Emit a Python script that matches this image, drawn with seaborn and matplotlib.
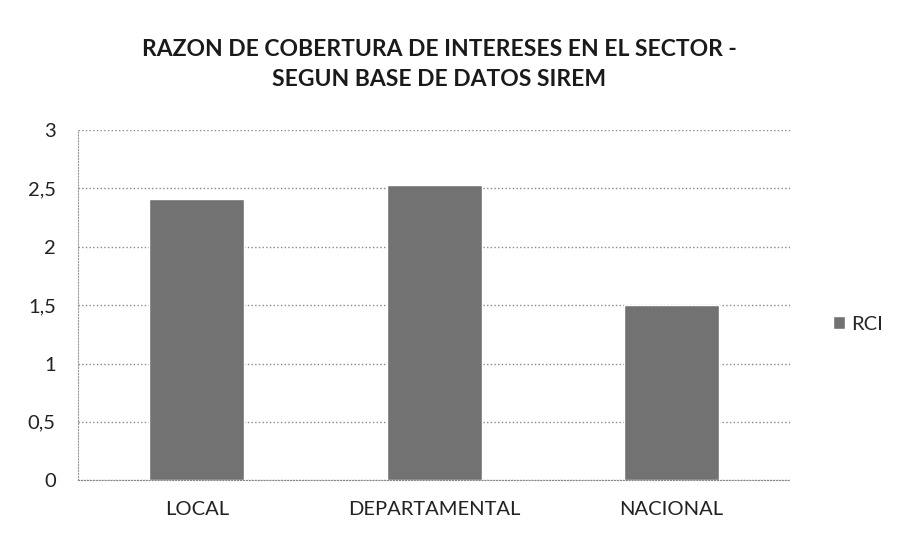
import pandas as pd
import matplotlib.pyplot as plt
import seaborn as sns

categorias = ['LOCAL', 'DEPARTAMENTAL', 'NACIONAL']
rci = [2.41, 2.53, 1.5]
y_ticks = [0, 0.5, 1, 1.5, 2, 2.5, 3]
y_labels = ['0', '0,5', '1', '1,5', '2', '2,5', '3']

df = pd.DataFrame({'sector': categorias, 'valor': rci, 'serie': 'RCI'})

sns.set_style('white')
plt.rcParams['font.family'] = ['Lato', 'DejaVu Sans']

fig = plt.figure(figsize=(8.97, 5.42), dpi=100)
ax = fig.add_axes([0.087, 0.114, 0.794, 0.646])

sns.barplot(data=df, x='sector', y='valor', hue='serie', palette=['#727272'],
            width=0.4, ax=ax, legend=True)

ax.set_ylim(0, 3)
ax.set_yticks(y_ticks)
ax.set_yticklabels(y_labels, fontsize=14.5, color='#222222')
ax.tick_params(axis='x', labelsize=14.5, colors='#222222', length=0, pad=15)
ax.tick_params(axis='y', length=0, pad=16)
ax.set_xlabel('')
ax.set_ylabel('')
ax.yaxis.grid(True, linestyle=':', color='#888888', linewidth=1)
ax.set_axisbelow(True)
for s in ['top', 'right']:
    ax.spines[s].set_visible(False)
ax.spines['left'].set_color('#999999')
ax.spines['left'].set_linestyle(':')
ax.spines['bottom'].set_color('#888888')
ax.spines['bottom'].set_linestyle(':')

ax.legend(loc='center left', bbox_to_anchor=(1.034, 0.446), frameon=False,
          fontsize=14.5, handlelength=0.6, handleheight=0.6, handletextpad=0.3)

fig.text(0.49, 0.881, 'RAZON DE COBERTURA DE INTERESES EN EL SECTOR -\nSEGUN BASE DE DATOS SIREM',
         ha='center', va='center', fontsize=16.5, fontweight='bold',
         color='#1a1a1a', linespacing=1.5)

fig.savefig('out.png', dpi=100)
